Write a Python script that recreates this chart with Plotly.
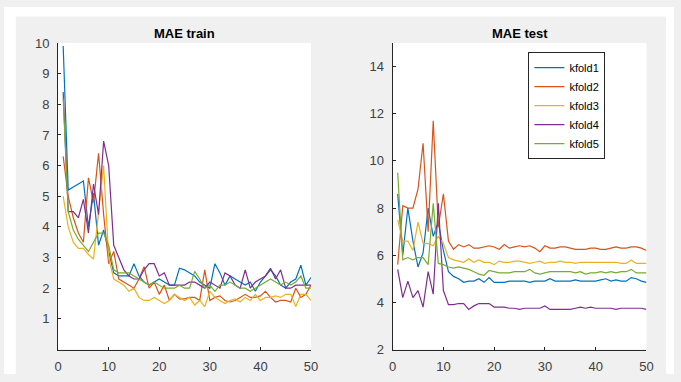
import plotly.graph_objects as go

epochs = list(range(1, 51))
names = ["kfold1", "kfold2", "kfold3", "kfold4", "kfold5"]
colors = ["#0072BD", "#D95319", "#EDB120", "#7E2F8E", "#77AC30"]

train_k1 = [9.9, 5.2, 5.3, 5.4, 5.5, 4.0, 5.1, 3.4, 3.9, 3.2, 2.5, 2.4, 2.4, 2.4, 2.8, 2.4, 2.2, 2.1, 2.2, 2.3,
            2.2, 2.1, 2.1, 2.65, 2.6, 2.5, 2.4, 2.2, 2.1, 2.0, 2.8, 2.5, 2.1, 2.4, 2.3, 2.2, 2.1, 2.2, 1.9, 2.2,
            2.4, 2.6, 2.4, 2.1, 2.0, 2.2, 2.3, 2.75, 2.1, 2.35]
train_k2 = [6.3, 5.0, 4.3, 3.8, 3.5, 5.6, 4.8, 6.4, 4.4, 2.8, 3.2, 2.3, 2.2, 2.1, 2.0, 2.3, 2.7, 2.0, 2.2, 1.8,
            2.1, 1.6, 1.8, 1.65, 1.65, 1.7, 1.7, 1.6, 2.6, 1.6, 1.7, 1.75, 1.6, 1.55, 1.6, 1.7, 1.8, 1.7, 1.7, 1.75,
            1.9, 1.7, 1.55, 1.6, 1.6, 1.55, 2.0, 1.7, 1.8, 2.1]
train_k3 = [5.0, 4.0, 3.5, 3.3, 3.3, 3.1, 2.95, 4.4, 6.0, 3.0, 2.3, 2.2, 2.1, 1.9, 2.0, 1.7, 1.6, 1.6, 1.7, 1.6,
            1.5, 1.6, 1.8, 1.7, 1.6, 1.7, 1.45, 1.6, 1.4, 1.9, 1.7, 1.6, 1.5, 1.6, 1.65, 1.55, 1.7, 1.6, 1.8, 1.6,
            1.7, 1.7, 1.75, 1.7, 1.8, 1.8, 1.4, 1.8, 1.8, 1.6]
train_k4 = [8.4, 4.5, 4.5, 4.3, 4.9, 3.8, 5.4, 4.4, 6.8, 6.0, 3.4, 3.0, 2.6, 2.4, 2.3, 2.3, 2.6, 2.8, 2.8, 2.4,
            2.5, 2.1, 2.1, 2.1, 2.1, 2.2, 2.2, 2.1, 2.0, 2.2, 2.1, 2.0, 2.5, 2.4, 2.1, 2.0, 2.6, 2.0, 2.2, 2.3,
            2.4, 2.65, 2.3, 2.6, 2.0, 2.0, 2.1, 2.1, 2.1, 2.1]
train_k5 = [8.2, 4.5, 3.9, 3.6, 3.4, 3.2, 3.5, 3.8, 3.8, 3.4, 2.6, 2.5, 2.5, 2.5, 2.4, 2.3, 2.2, 2.1, 2.2, 2.1,
            2.0, 2.0, 2.0, 2.1, 2.0, 2.0, 2.55, 2.3, 2.0, 2.1, 1.9, 2.1, 2.1, 2.2, 2.1, 2.0, 2.0, 1.9, 2.0, 2.1,
            2.2, 2.3, 2.2, 2.1, 2.2, 2.1, 2.2, 2.4, 2.0, 2.0]

test_k1 = [8.6, 6.0, 8.0, 6.6, 5.5, 6.1, 8.0, 6.8, 7.4, 6.2, 5.3, 5.1, 5.0, 4.85, 4.9, 4.9, 5.0, 4.85, 5.05, 4.85,
           4.85, 4.85, 4.9, 4.9, 4.9, 4.9, 4.85, 4.9, 4.9, 4.9, 5.0, 4.9, 4.9, 4.9, 4.9, 4.95, 4.9, 4.9, 4.9, 4.9,
           4.95, 5.0, 4.9, 4.95, 4.9, 4.9, 5.05, 5.0, 4.9, 4.85]
test_k2 = [5.6, 8.1, 8.0, 8.0, 8.8, 10.75, 7.0, 11.7, 7.2, 8.6, 6.6, 6.25, 6.45, 6.35, 6.45, 6.3, 6.3, 6.35, 6.4, 6.35,
           6.25, 6.45, 6.3, 6.35, 6.4, 6.35, 6.4, 6.3, 6.15, 6.4, 6.3, 6.3, 6.35, 6.35, 6.3, 6.25, 6.25, 6.25, 6.3, 6.3,
           6.25, 6.25, 6.3, 6.35, 6.3, 6.3, 6.35, 6.35, 6.3, 6.2]
test_k3 = [7.5, 6.6, 6.6, 6.2, 7.4, 6.5, 6.5, 6.4, 6.8, 6.5, 5.9, 5.8, 5.75, 5.7, 5.85, 5.7, 5.8, 5.7, 5.7, 5.6,
           5.75, 5.7, 5.7, 5.75, 5.75, 5.7, 5.65, 5.7, 5.75, 5.65, 5.7, 5.7, 5.75, 5.7, 5.7, 5.65, 5.7, 5.7, 5.7, 5.7,
           5.7, 5.7, 5.7, 5.7, 5.65, 5.65, 5.8, 5.65, 5.65, 5.65]
test_k4 = [5.4, 4.2, 4.9, 4.2, 4.5, 3.8, 5.3, 4.35, 8.2, 4.5, 3.9, 3.9, 3.95, 3.95, 3.7, 3.85, 3.95, 3.95, 3.95, 3.8,
           3.8, 3.8, 3.75, 3.75, 3.7, 3.75, 3.75, 3.75, 3.75, 3.85, 3.7, 3.7, 3.7, 3.7, 3.7, 3.75, 3.8, 3.75, 3.8, 3.75,
           3.75, 3.75, 3.75, 3.7, 3.75, 3.75, 3.75, 3.75, 3.75, 3.7]
test_k5 = [9.5, 5.8, 5.9, 5.8, 5.9, 5.9, 5.6, 8.2, 5.65, 5.6, 5.5, 5.45, 5.5, 5.45, 5.4, 5.3, 5.2, 5.15, 5.35, 5.3,
           5.25, 5.25, 5.25, 5.3, 5.3, 5.3, 5.4, 5.25, 5.2, 5.25, 5.3, 5.3, 5.3, 5.3, 5.3, 5.25, 5.3, 5.2, 5.25, 5.25,
           5.3, 5.25, 5.3, 5.25, 5.3, 5.3, 5.4, 5.25, 5.25, 5.25]

train = [train_k1, train_k2, train_k3, train_k4, train_k5]
test = [test_k1, test_k2, test_k3, test_k4, test_k5]

W, H = 681, 382
fig = go.Figure()

for i in range(5):
    fig.add_trace(go.Scatter(x=epochs, y=train[i], mode="lines", name=names[i],
                             line=dict(color=colors[i], width=1.2), showlegend=False,
                             xaxis="x", yaxis="y"))
for i in range(5):
    fig.add_trace(go.Scatter(x=epochs, y=test[i], mode="lines", name=names[i],
                             line=dict(color=colors[i], width=1.2), showlegend=True,
                             xaxis="x2", yaxis="y2"))

ax_common = dict(showgrid=False, zeroline=False, showline=True, linecolor="#262626", linewidth=1,
                 ticks="inside", ticklen=3, tickcolor="#262626", mirror=False, ticklabelstandoff=5,
                 tickfont=dict(family="Liberation Sans, Arial", size=13, color="#404040"))

y_dom = [1 - 356.5 / H, 1 - 37.5 / H]
fig.update_layout(
    width=W, height=H,
    margin=dict(l=0, r=0, t=0, b=0),
    paper_bgcolor="#f0f0f0",
    plot_bgcolor="white",
    xaxis=dict(domain=[55 / W, 312 / W], range=[0, 50], tickvals=[0, 10, 20, 30, 40, 50], anchor="y", **ax_common),
    yaxis=dict(domain=y_dom, range=[0, 10], tickvals=list(range(1, 11)), anchor="x", **ax_common),
    xaxis2=dict(domain=[395 / W, 653 / W], range=[0, 50], tickvals=[0, 10, 20, 30, 40, 50], anchor="y2", **ax_common),
    yaxis2=dict(domain=y_dom, range=[2, 15], tickvals=[2, 4, 6, 8, 10, 12, 14], anchor="x2", **ax_common),
    legend=dict(x=533 / W, y=1 - 47 / H, xanchor="left", yanchor="top", bgcolor="white",
                bordercolor="#262626", borderwidth=1,
                font=dict(family="Liberation Sans, Arial", size=11, color="#000000"),
                tracegroupgap=0, itemwidth=30),
    shapes=[
        dict(type="rect", xref="paper", yref="paper", x0=0, x1=1, y0=1 - 10 / H, y1=1,
             fillcolor="white", line=dict(width=0), layer="below"),
        dict(type="rect", xref="paper", yref="paper", x0=0, x1=12 / W, y0=0, y1=1,
             fillcolor="white", line=dict(width=0), layer="below"),
        dict(type="rect", xref="paper", yref="paper", x0=673 / W, x1=1, y0=0, y1=1,
             fillcolor="white", line=dict(width=0), layer="below"),
    ],
    annotations=[
        dict(text="<b>MAE train</b>", xref="paper", yref="paper", x=(55 + 312) / 2 / W, y=1 - 28 / H,
             xanchor="center", yanchor="middle", showarrow=False,
             font=dict(family="Liberation Sans, Arial", size=13, color="#000000")),
        dict(text="<b>MAE test</b>", xref="paper", yref="paper", x=(395 + 653) / 2 / W, y=1 - 28 / H,
             xanchor="center", yanchor="middle", showarrow=False,
             font=dict(family="Liberation Sans, Arial", size=13, color="#000000")),
    ],
)

fig.write_html("out.html")
